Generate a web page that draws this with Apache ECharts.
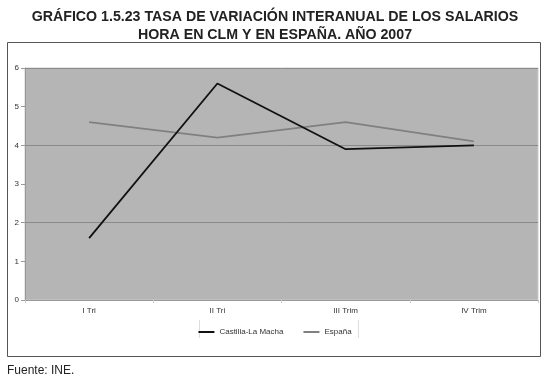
<!DOCTYPE html>
<html><head><meta charset="utf-8">
<script src="https://cdn.jsdelivr.net/npm/echarts@6/dist/echarts.min.js"></script>
<style>html,body{margin:0;padding:0;background:#fff}#c{width:550px;height:383px}</style>
</head><body><div id="c"></div>
<script>
const categories = ['I Tri', 'II Tri', 'III Trim', 'IV Trim'];
const clm = [1.6, 5.6, 3.9, 4.0];
const espana = [4.6, 4.2, 4.6, 4.1];
const seriesNames = ['Castilla-La Macha', 'España'];
const yTicks = [0, 1, 2, 3, 4, 5, 6];

const chart = echarts.init(document.getElementById('c'), null, {renderer: 'canvas'});
const font = 'Liberation Sans, Arial, sans-serif';
chart.setOption({
  animation: false,
  backgroundColor: '#fff',
  title: {
    text: 'GRÁFICO 1.5.23 TASA DE VARIACIÓN INTERANUAL DE LOS SALARIOS\nHORA EN CLM Y EN ESPAÑA. AÑO 2007',
    left: 'center', top: 3,
    textStyle: {fontFamily: font, fontSize: 14.2, fontWeight: 'bold', color: '#222', lineHeight: 18}
  },
  graphic: [
    {type: 'rect', shape: {x: 7.5, y: 42.5, width: 533, height: 314}, style: {fill: null, stroke: '#555', lineWidth: 1}, z: -10},
    {type: 'text', left: 7, top: 365, style: {text: 'Fuente: INE.', font: '12px Liberation Sans, Arial, sans-serif', fill: '#222'}},
    {type: 'line', shape: {x1: 199.5, y1: 320, x2: 199.5, y2: 338}, style: {stroke: '#ddd', lineWidth: 1}},
    {type: 'line', shape: {x1: 358.5, y1: 320, x2: 358.5, y2: 338}, style: {stroke: '#ddd', lineWidth: 1}}
  ],
  legend: {
    data: seriesNames, top: 323, left: 'center', itemWidth: 16, itemHeight: 2, itemGap: 20,
    icon: 'rect',
    textStyle: {fontFamily: font, fontSize: 8, color: '#333'}
  },
  grid: {left: 25, right: 12, top: 68, bottom: 83, show: true, backgroundColor: '#b5b5b5', borderColor: '#ccc', borderWidth: 1},
  xAxis: [
    {type: 'category', data: categories, boundaryGap: true,
     axisLine: {show: true, lineStyle: {color: '#999'}},
     axisTick: {show: true, length: 3, lineStyle: {color: '#ccc'}},
     axisLabel: {fontFamily: font, fontSize: 8, color: '#333', margin: 7},
     splitLine: {show: false}},
    {type: 'category', data: categories, show: false, boundaryGap: true}
  ],
  yAxis: [
    {type: 'value', min: 0, max: 6, interval: 1,
     axisLine: {show: true, lineStyle: {color: '#999'}},
     axisTick: {show: true, length: 4, lineStyle: {color: '#999'}},
     axisLabel: {fontFamily: font, fontSize: 8, color: '#333', margin: 6,
       formatter: v => yTicks.includes(v) ? String(v) : ''},
     splitLine: {show: false}},
    {type: 'value', min: 0, max: 6, interval: 2, show: true,
     axisLine: {show: false}, axisTick: {show: false}, axisLabel: {show: false},
     splitLine: {show: true, lineStyle: {color: '#8a8a8a', width: 1}}}
  ],
  series: [
    {name: seriesNames[0], type: 'line', data: clm, xAxisIndex: 1, yAxisIndex: 0,
     symbol: 'none', lineStyle: {color: '#111', width: 1.8}, itemStyle: {color: '#111'}, z: 3},
    {name: seriesNames[1], type: 'line', data: espana, xAxisIndex: 1, yAxisIndex: 0,
     symbol: 'none', lineStyle: {color: '#808080', width: 1.8}, itemStyle: {color: '#808080'}, z: 2}
  ]
});
</script></body></html>
